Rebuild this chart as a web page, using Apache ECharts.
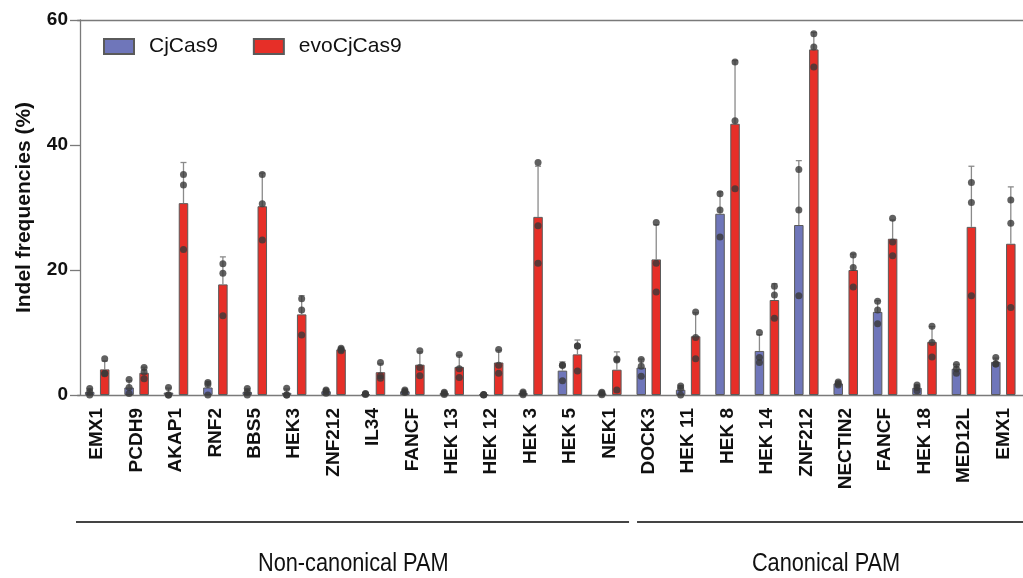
<!DOCTYPE html>
<html>
<head>
<meta charset="utf-8">
<script src="https://cdn.jsdelivr.net/npm/echarts@6/dist/echarts.min.js"></script>
<style>
  html, body { margin: 0; padding: 0; background: #ffffff; }
  #chart { width: 1023px; height: 578px; }
</style>
</head>
<body>
<div id="chart"></div>
<script>
// Target sites (in plot order)
const categories = ['EMX1', 'PCDH9', 'AKAP1', 'RNF2', 'BBS5', 'HEK3', 'ZNF212', 'IL34', 'FANCF',
  'HEK 13', 'HEK 12', 'HEK 3', 'HEK 5', 'NEK1', 'DOCK3', 'HEK 11', 'HEK 8', 'HEK 14', 'ZNF212',
  'NECTIN2', 'FANCF', 'HEK 18', 'MED12L', 'EMX1'];

// Site groups, by category index
const groupNames = ['Non-canonical PAM', 'Canonical PAM'];
const groupFrom = [0, 14];
const groupTo = [13, 23];

const yTicks = [0, 20, 40, 60];

// CjCas9: mean, SD and the three replicates (indel %)
const cjMean = [0.5, 1.2, 0.4, 1.2, 0.5, 0.35, 0.6, 0.15, 0.6, 0.3, 0.05, 0.3, 3.9, 0.25,
  4.4, 0.85, 29.0, 7.05, 27.2, 1.85, 13.3, 1.15, 4.2, 5.3];
const cjSD = [0.5, 1.1, 0.7, 1.0, 0.5, 0.6, 0.25, 0.1, 0.2, 0.2, 0.05, 0.2, 1.4, 0.2,
  1.35, 0.7, 3.5, 2.6, 10.3, 0.25, 1.8, 0.45, 0.7, 0.6];
const cjRep1 = [1.05, 2.5, 1.2, 2.0, 1.05, 1.1, 0.8, 0.25, 0.8, 0.45, 0.1, 0.5, 4.75, 0.45,
  5.7, 1.45, 32.2, 10.0, 36.1, 2.1, 15.0, 1.6, 4.9, 6.0];
const cjRep2 = [0.5, 1.2, 0.0, 1.7, 0.5, 0.0, 0.65, 0.15, 0.6, 0.3, 0.05, 0.3, 4.75, 0.3,
  4.6, 1.05, 29.6, 6.0, 29.6, 1.85, 13.6, 1.2, 4.15, 4.95];
const cjRep3 = [0.0, 0.25, 0.0, 0.0, 0.0, 0.0, 0.3, 0.1, 0.4, 0.1, 0.0, 0.05, 2.3, 0.05,
  3.0, 0.0, 25.3, 5.2, 15.9, 1.6, 11.4, 0.7, 3.5, 4.95];

// evoCjCas9: mean, SD and the three replicates (indel %)
const evoMean = [4.1, 3.55, 30.7, 17.7, 30.2, 12.9, 7.3, 3.65, 4.85, 4.5, 5.2, 28.5, 6.5, 4.05,
  21.7, 9.4, 43.4, 15.2, 55.3, 20.0, 25.0, 8.5, 26.9, 24.2];
const evoSD = [1.35, 0.9, 6.5, 4.4, 5.3, 3.0, 0.2, 1.35, 2.05, 1.85, 1.95, 8.1, 2.3, 2.85,
  5.55, 3.75, 10.1, 2.6, 2.7, 2.55, 3.0, 2.45, 9.7, 9.1];
const evoRep1 = [5.8, 4.4, 35.3, 21.0, 35.3, 15.4, 7.5, 5.2, 7.1, 6.5, 7.3, 37.2, 7.85, 5.75,
  27.6, 13.3, 53.3, 17.4, 57.8, 22.4, 28.3, 11.0, 34.0, 31.2];
const evoRep2 = [3.5, 3.7, 33.6, 19.5, 30.6, 13.6, 7.3, 3.1, 4.4, 4.2, 4.75, 27.1, 7.85, 5.6,
  21.1, 9.2, 43.9, 16.0, 55.7, 20.4, 24.5, 8.4, 30.8, 27.5];
const evoRep3 = [3.4, 2.6, 23.3, 12.7, 24.8, 9.6, 7.1, 2.7, 3.1, 2.8, 3.5, 21.1, 3.85, 0.8,
  16.5, 5.8, 33.0, 12.3, 52.5, 17.3, 22.3, 6.1, 15.9, 14.0];

const FONT = '"Liberation Sans", Arial, Helvetica, sans-serif';
const BLUE = '#6f76ba';
const RED = '#e62f28';
const AXIS = '#7a7a7a';
const DOT = '#3a3a3a';
const BAR_W = 9.5;
const BAR_GAP = 5.5;
const HALF_STEP = (BAR_W + BAR_GAP) / 2;

function points(reps) {
  const out = [];
  reps.forEach(r => r.forEach((v, i) => out.push([i, v])));
  return out;
}

function errorSeries(name, mean, sd, dx) {
  return {
    name: name,
    type: 'custom',
    z: 3,
    silent: true,
    data: mean.map((m, i) => [i, m, m + sd[i]]),
    encode: { x: 0, y: [1, 2] },
    renderItem: function (params, api) {
      const base = api.coord([api.value(0), api.value(1)]);
      const top = api.coord([api.value(0), api.value(2)]);
      const x = base[0] + dx;
      const cap = 3;
      return {
        type: 'group',
        children: [
          { type: 'line', shape: { x1: x, y1: base[1], x2: x, y2: top[1] },
            style: { stroke: '#8a8a8a', lineWidth: 1.3 } },
          { type: 'line', shape: { x1: x - cap, y1: top[1], x2: x + cap, y2: top[1] },
            style: { stroke: '#8a8a8a', lineWidth: 1.3 } }
        ]
      };
    }
  };
}

const chart = echarts.init(document.getElementById('chart'), null, { renderer: 'canvas' });

const option = {
  backgroundColor: '#ffffff',
  animation: false,
  textStyle: { fontFamily: FONT },
  grid: { left: 77.5, right: -3.5, top: 20, bottom: 183, containLabel: false },
  legend: {
    data: ['CjCas9', 'evoCjCas9'],
    left: 98,
    top: 31,
    icon: 'rect',
    itemWidth: 30,
    itemHeight: 15,
    itemGap: 35,
    textStyle: { fontFamily: FONT, fontSize: 21, color: '#111', padding: [0, 0, 0, 10] }
  },
  xAxis: [{
    type: 'category',
    data: categories,
    boundaryGap: true,
    axisLine: { lineStyle: { color: AXIS, width: 1.3 } },
    axisTick: { alignWithLabel: true, length: 9, lineStyle: { color: AXIS, width: 1.3 } },
    axisLabel: {
      interval: 0, rotate: 90, margin: 13,
      fontFamily: FONT, fontSize: 19, fontWeight: 'bold', color: '#111'
    }
  }, {
    type: 'category',
    data: categories,
    position: 'top',
    axisLine: { lineStyle: { color: AXIS, width: 1.3 } },
    axisTick: { show: false },
    axisLabel: { show: false }
  }],
  yAxis: {
    type: 'value',
    min: yTicks[0],
    max: yTicks[yTicks.length - 1],
    interval: yTicks[1] - yTicks[0],
    offset: -2.5,
    name: 'Indel frequencies (%)',
    nameLocation: 'middle',
    nameGap: 45,
    nameTextStyle: { fontFamily: FONT, fontSize: 21, fontWeight: 'bold', color: '#111' },
    axisLine: { show: true, lineStyle: { color: AXIS, width: 1.3 } },
    axisTick: { show: true, length: 10, lineStyle: { color: AXIS, width: 1.3 } },
    splitLine: { show: false },
    axisLabel: { margin: 12, fontFamily: FONT, fontSize: 19, fontWeight: 'bold', color: '#111' }
  },
  series: [
    {
      name: 'CjCas9', type: 'bar', data: cjMean, barWidth: BAR_W,
      barGap: (BAR_GAP / BAR_W * 100) + '%', z: 2,
      itemStyle: { color: BLUE, borderColor: '#5a5a5a', borderWidth: 1 }
    },
    {
      name: 'evoCjCas9', type: 'bar', data: evoMean, barWidth: BAR_W, z: 2,
      itemStyle: { color: RED, borderColor: '#5a5a5a', borderWidth: 1 }
    },
    errorSeries('CjCas9 SD', cjMean, cjSD, -HALF_STEP),
    errorSeries('evoCjCas9 SD', evoMean, evoSD, HALF_STEP),
    {
      name: 'CjCas9 replicates', type: 'scatter', z: 4, silent: true,
      data: points([cjRep1, cjRep2, cjRep3]),
      symbolSize: 7, symbolOffset: [-HALF_STEP, 0],
      itemStyle: { color: DOT }
    },
    {
      name: 'evoCjCas9 replicates', type: 'scatter', z: 4, silent: true,
      data: points([evoRep1, evoRep2, evoRep3]),
      symbolSize: 7, symbolOffset: [HALF_STEP, 0],
      itemStyle: { color: DOT }
    }
  ]
};

chart.setOption(option);

// Group brackets under the site labels, placed from the category axis
const graphics = [];
const GROUP_GAP = 8;
const lineY = 522;
const labelY = 564;
groupNames.forEach((name, g) => {
  const a = chart.convertToPixel({ xAxisIndex: 0 }, groupFrom[g]);
  const b = chart.convertToPixel({ xAxisIndex: 0 }, groupTo[g]);
  const band = chart.convertToPixel({ xAxisIndex: 0 }, 1) - chart.convertToPixel({ xAxisIndex: 0 }, 0);
  const x1 = a - band / 2 + (g > 0 ? GROUP_GAP : -1.5);
  const x2 = b + band / 2;
  graphics.push({
    type: 'line', silent: true,
    shape: { x1: x1, y1: lineY, x2: x2, y2: lineY },
    style: { stroke: '#444', lineWidth: 2 }
  });
  // condensed caption: regular face narrowed horizontally
  graphics.push({
    type: 'text', silent: true,
    x: (a + b) / 2, y: labelY,
    scaleX: 0.87,
    style: {
      text: name, align: 'center', verticalAlign: 'middle',
      font: '25px "Liberation Sans", Arial, sans-serif',
      fill: '#111'
    }
  });
});
chart.setOption({ graphic: graphics });
</script>
</body>
</html>
